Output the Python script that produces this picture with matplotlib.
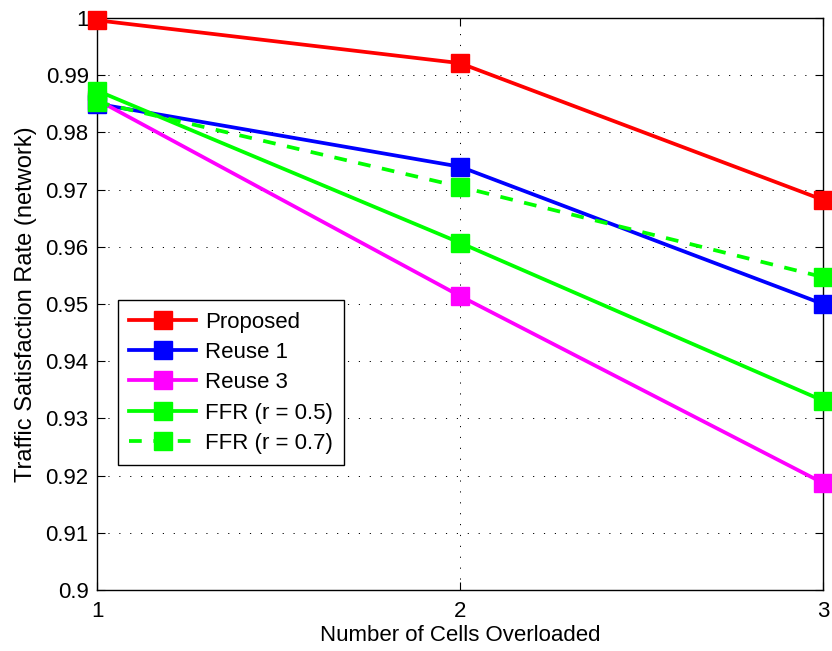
import matplotlib as mpl
import matplotlib.pyplot as plt

mpl.rcParams.update(
    {
        "font.family": ["Liberation Sans", "DejaVu Sans"],
        "font.size": 16,
        "axes.linewidth": 1.0,
        "xtick.direction": "in",
        "ytick.direction": "in",
    }
)

cells = [1, 2, 3]
proposed = [0.9996, 0.9921, 0.9682]
reuse1 = [0.9850, 0.9740, 0.9500]
reuse3 = [0.9857, 0.9514, 0.9187]
ffr05 = [0.9873, 0.9607, 0.9331]
ffr07 = [0.9853, 0.9705, 0.9547]

series = [
    ("Proposed", proposed, "#ff0000", "-"),
    ("Reuse 1", reuse1, "#0000ff", "-"),
    ("Reuse 3", reuse3, "#ff00ff", "-"),
    ("FFR (r = 0.5)", ffr05, "#00ff00", "-"),
    ("FFR (r = 0.7)", ffr07, "#00ff00", (0, (3.4, 3.1))),
]

fig = plt.figure(figsize=(8.32, 6.51), dpi=100)
ax = fig.add_axes([0.1166, 0.0937, 0.8726, 0.8787])

for label, vals, color, ls in series:
    ax.plot(
        cells,
        vals,
        linestyle=ls,
        color=color,
        linewidth=2.7,
        marker="s",
        markersize=13,
        markerfacecolor=color,
        markeredgecolor=color,
        label=label,
        clip_on=False,
        zorder=3,
    )

ax.set_xlim(1, 3)
ax.set_ylim(0.9, 1.0)
ax.set_xticks([1, 2, 3])
ax.set_yticks([0.9 + 0.01 * i for i in range(11)])
ax.set_yticklabels(["0.9", "0.91", "0.92", "0.93", "0.94", "0.95", "0.96", "0.97", "0.98", "0.99", "1"])
ax.tick_params(top=True, right=True, length=6, labelsize=16, pad=6)
ax.tick_params(axis="x", pad=8)
ax.grid(True, color="black", linestyle=(0, (1.2, 10)), linewidth=0.7)
ax.set_axisbelow(True)

ax.set_xlabel("Number of Cells Overloaded", fontsize=16, labelpad=2)
ax.set_ylabel("Traffic Satisfaction Rate (network)", fontsize=17, labelpad=6)

leg = ax.legend(
    loc="lower left",
    bbox_to_anchor=(0.029, 0.2185),
    borderaxespad=0,
    fancybox=False,
    framealpha=1,
    edgecolor="black",
    fontsize=16,
    handlelength=3.0,
    handletextpad=0.4,
    labelspacing=0.42,
    borderpad=0.5,
)
leg.get_frame().set_linewidth(1.0)

fig.savefig("out.png", dpi=100)
